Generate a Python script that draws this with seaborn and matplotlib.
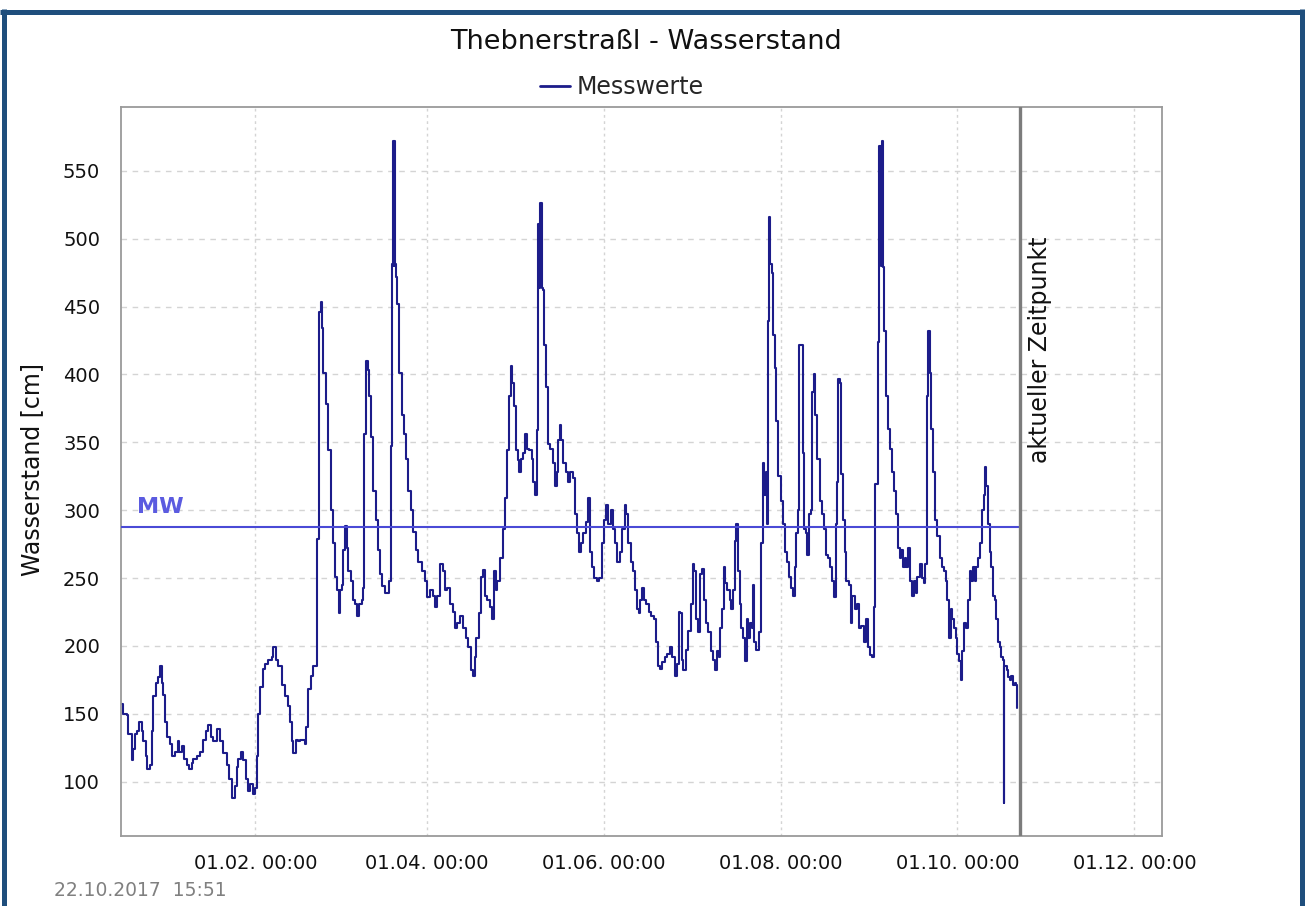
import numpy as np
import pandas as pd
import matplotlib
matplotlib.use("Agg")
import matplotlib.pyplot as plt
import matplotlib.dates as mdates
import matplotlib.transforms as mtransforms
from matplotlib.lines import Line2D
import seaborn as sns

# ---------------- data ----------------
title = "Thebnerstraßl - Wasserstand"
series_name = "Messwerte"
y_label = "Wasserstand [cm]"
mean_label = "MW"
mean_value = 287.5
now_label = "aktueller Zeitpunkt"
now_time = "2017-10-22 15:51"
stamp_text = "22.10.2017  15:51"
start_date = "2017-01-01"
x_start = "2016-12-16 15:51"
x_end = "2017-12-10 12:00"
y_min, y_max = 60, 597
y_ticks = [100, 150, 200, 250, 300, 350, 400, 450, 500, 550]
x_tick_dates = ["2017-02-01", "2017-04-01", "2017-06-01",
                "2017-08-01", "2017-10-01", "2017-12-01"]
x_tick_labels = ["01.02. 00:00", "01.04. 00:00", "01.06. 00:00",
                 "01.08. 00:00", "01.10. 00:00", "01.12. 00:00"]

# days after 1 Jan 2017
day_offset = [
    -15.1, -14.5, -13.4, -12.8, -11.7, -11.1, -10.5, -9.7, -9.0, -8.2, -7.6, -6.7, -6.3, -5.3,
    -4.8, -4.2, -3.3, -2.5, -1.9, -1.3, -0.7, -0.2, 0.6, 1.6, 2.1, 3.3, 4.2, 4.8, 5.6, 6.4,
    7.3, 8.1, 9.0, 9.6, 10.7, 11.9, 13.0, 14.0, 14.8, 15.6, 16.5, 17.6, 18.8, 19.9, 21.1,
    22.0, 22.8, 23.9, 24.5, 25.1, 25.9, 26.8, 27.6, 28.3, 29.1, 30.0, 30.8, 31.4, 32.0,
    32.6, 33.5, 34.3, 35.4, 36.6, 37.2, 38.0, 38.9, 40.0, 41.2, 42.1, 42.9, 43.5, 44.1,
    45.0, 45.8,
    46.4, 48.1, 48.6, 49.2, 50.0, 50.9, 52.1, 52.3, 52.8, 53.0, 53.6, 53.9, 54.4, 55.3,
    56.1, 56.9, 57.6, 58.4, 59.2, 59.8, 60.1, 60.9, 61.3, 61.9, 62.4, 63.0, 63.8, 64.5,
    65.3, 66.1, 66.8, 67.6, 68.2, 68.5, 69.0, 69.7, 70.2, 71.0, 71.6, 72.4, 73.3, 73.9,
    74.8, 75.6, 76.4, 77.1, 77.6, 78.2, 78.5, 78.7, 78.9, 79.1, 79.3, 79.9, 80.6, 81.4,
    82.2, 82.9, 83.7, 84.5, 85.4, 86.3, 87.1, 88.3, 89.4, 90.2, 91.1, 92.1, 92.9, 93.7,
    94.6, 95.5, 96.3, 97.1, 98.0, 99.0, 99.8, 100.6, 101.5, 102.6, 103.6, 104.4, 105.2,
    105.9, 106.7, 107.2, 108.0, 108.7, 109.5, 110.1, 110.9,
    111.8, 112.7, 113.2, 113.9, 114.3, 115.3, 116.2, 117.0, 117.6, 118.4, 119.1, 119.6,
    120.2, 120.8, 121.4, 121.9, 122.5, 123.3, 123.9, 124.5, 125.4, 126.2, 126.8, 127.3,
    127.9, 128.5, 128.9, 129.1, 129.3, 129.5, 129.8, 130.0, 130.5, 131.1, 131.7, 132.5,
    133.6, 134.2, 134.8, 135.4, 135.9, 136.5, 137.1, 138.0, 138.8, 139.4, 140.3, 141.1,
    141.9, 142.5, 143.2, 144.0, 144.9, 145.7, 146.3, 146.9, 147.7, 148.6, 149.5, 150.3,
    151.1, 151.8, 152.6, 153.4, 154.3, 155.1, 155.8, 156.6, 157.5, 158.3, 158.9, 159.5,
    160.3, 161.2, 161.8, 162.4, 163.2, 163.7, 164.4, 165.0, 165.8, 166.7, 167.5, 168.3,
    169.0, 169.8, 170.6, 171.3, 172.1, 173.0, 173.9, 174.7, 175.6, 176.4, 177.1,
    177.3, 177.9, 178.4, 179.4, 180.2, 181.0, 181.7, 182.2, 182.8, 183.6, 184.4, 185.0,
    185.6, 186.3, 187.1, 187.9, 188.8, 189.4, 190.2, 190.8, 191.3, 192.0, 192.5, 193.0,
    193.7, 194.5, 195.1, 195.7, 196.2, 196.8, 197.4, 198.0, 198.5, 199.1, 199.7, 200.3,
    200.8, 201.4, 202.0, 202.6, 203.0, 203.7, 204.5, 205.2, 205.8, 206.4, 206.9, 207.4,
    207.7, 208.1, 208.3, 208.9, 209.5, 210.0, 210.6, 211.2, 212.0, 212.7, 213.5, 214.1,
    214.9, 215.5, 216.3, 216.9, 217.5, 218.1, 218.4, 219.2, 219.8, 220.1, 220.7, 221.3,
    221.9, 222.4, 223.0, 223.6, 224.0, 224.7, 225.5, 226.4, 227.0, 227.6, 228.4, 229.2,
    229.9, 230.5, 231.0, 231.5, 231.9, 232.4, 233.0, 233.6, 234.1, 234.7, 235.5, 236.2,
    236.8, 237.6, 238.4, 239.1, 239.9, 240.7, 241.4, 242.2,
    242.8, 243.7, 244.1, 244.6, 245.3, 245.6, 246.0, 246.5, 247.1, 247.4, 247.6, 248.2,
    248.5, 249.2, 249.9, 250.6, 251.1, 251.7, 252.5, 253.1, 253.7, 254.2, 254.8, 255.4,
    256.0, 256.5, 257.3, 258.0, 258.6, 259.2, 260.0, 260.6, 261.4, 261.9, 262.5, 263.0,
    263.4, 263.9, 264.6, 265.3, 266.1, 266.9, 267.5, 268.3, 269.0, 269.5, 270.0, 270.6,
    271.2, 271.8, 272.4, 273.0, 273.5, 274.1, 274.7, 275.3, 276.1, 276.6, 277.2, 277.8,
    278.4, 278.9, 279.5, 280.1, 280.9, 281.6, 282.2, 282.5, 283.0, 283.4, 284.1, 284.7,
    285.3, 285.8, 286.4, 287.0, 287.6, 288.1, 288.7, 288.9, 289.2, 289.9, 290.4, 291.0,
    291.6, 292.2, 292.7, 293.3, 293.6,
]

level_cm = [
    157, 150, 149, 135, 116, 124, 135, 137, 144, 137, 130, 119, 109, 112,
    137, 163, 173, 177, 185, 173, 164, 144, 133, 128, 119, 122, 130, 122, 126, 117,
    112, 109, 114, 117, 119, 122, 131, 137, 142, 133, 130, 139, 130, 121, 112,
    102, 88, 97, 111, 117, 122, 116, 102, 93, 98, 91, 95, 119, 150,
    170, 183, 187, 190, 192, 199, 190, 185, 171, 163, 156, 144, 130, 121,
    131, 130,
    131, 128, 140, 168, 178, 185, 189, 279, 279, 446, 453, 434, 401, 378,
    344, 300, 276, 251, 241, 224, 241, 245, 271, 288, 272, 255, 248, 234,
    231, 222, 231, 234, 243, 356, 410, 403, 384, 354, 314, 293, 271, 253,
    244, 239, 239, 248, 347, 481, 572, 480, 572, 481, 472, 452, 401, 370,
    356, 338, 314, 300, 284, 271, 262, 255, 248, 236, 241, 237, 229, 237,
    260, 255, 241, 243, 231, 225, 213, 217, 222, 213, 206, 199, 182,
    178, 192, 206, 224, 251, 256, 237, 234,
    229, 220, 255, 241, 248, 265, 286, 309, 344, 384, 406, 394,
    377, 344, 337, 328, 338, 342, 356, 345, 344, 338, 321, 311,
    359, 511, 464, 526, 500, 526, 464, 462, 422, 391, 349, 345,
    335, 318, 328, 352, 363, 352, 335, 328, 321, 328, 324, 297,
    283, 269, 276, 283, 291, 309, 269, 258, 250, 248, 250, 276,
    293, 304, 290, 300, 286, 276, 262, 269, 286, 304, 297, 276,
    262, 255, 241, 227, 224, 234, 243, 234, 231, 225, 222, 220,
    203, 185, 183, 188, 192, 194, 199, 192, 178, 187, 225,
    224, 190, 182, 197, 211, 231, 260, 255, 220, 210, 253, 257,
    234, 217, 210, 196, 190, 182, 196, 192, 213, 227, 258, 246,
    241, 234, 227, 241, 277, 290, 255, 231, 213, 206, 189, 220,
    206, 217, 213, 245, 203, 197, 210, 276, 335, 311, 328, 290,
    439, 516, 481, 475, 429, 405, 366, 325, 307, 290, 269, 262,
    251, 243, 237, 258, 283, 300, 422, 422, 342, 286, 283, 267,
    297, 300, 387, 400, 370, 338, 307, 297, 286, 267, 265, 258,
    248, 236, 290, 321, 397, 394, 327, 293, 269, 248, 245, 217,
    237, 227, 231, 213, 215, 203, 220, 199,
    193, 192, 229, 319, 319, 424, 568, 480, 572, 479, 432, 429,
    384, 360, 345, 328, 314, 297, 272, 265, 271, 258, 265, 258,
    272, 248, 237, 248, 239, 251, 260, 250, 246, 260, 384, 432,
    401, 360, 328, 293, 281, 265, 258, 255, 248, 234, 206, 227,
    220, 213, 206, 194, 189, 175, 196, 217, 213, 234, 255, 248,
    258, 248, 258, 265, 276, 300, 311, 332, 318, 290, 269, 258,
    237, 234, 220, 203, 199, 192, 190, 84, 185, 182, 177, 175,
    178, 171, 173, 171, 154,
]

# ---------------- figure ----------------
W, H = 1306, 906
times = pd.Timestamp(start_date) + pd.to_timedelta(day_offset, unit="D")
df = pd.DataFrame({"Zeit": times, "Wasserstand": level_cm})

sns.set_theme(style="white")
plt.rcParams["font.family"] = ["DejaVu Sans"]

fig = plt.figure(figsize=(W / 100, H / 100), dpi=100)
fig.patch.set_facecolor("white")

ax_l, ax_r, ax_t, ax_b = 121, 1162, 107, 836
ax = fig.add_axes([ax_l / W, 1 - ax_b / H, (ax_r - ax_l) / W, (ax_b - ax_t) / H])
ax.set_facecolor("white")

navy = "#1c1c8a"
sns.lineplot(data=df, x="Zeit", y="Wasserstand", ax=ax, color=navy, lw=1.5,
             drawstyle="steps-post", estimator=None, label=series_name, legend=False)

x0 = pd.Timestamp(x_start)
now = pd.Timestamp(now_time)
ax.set_xlim(x0, pd.Timestamp(x_end))
ax.set_ylim(y_min, y_max)
ax.set_yticks(y_ticks)
ax.set_xticks([pd.Timestamp(d) for d in x_tick_dates])
ax.set_xticklabels(x_tick_labels)
ax.set_xlabel("")
ax.set_ylabel("")

# grid
ax.yaxis.grid(True, color="#d4d4d4", linestyle=(0, (4, 4)), lw=1.0)
ax.xaxis.grid(True, color="#d4d4d4", linestyle=(0, (2, 2.5)), lw=1.0)
ax.set_axisbelow(True)

for s in ax.spines.values():
    s.set_color("#9a9a9a")
    s.set_linewidth(1.3)

ax.tick_params(axis="both", direction="out", length=4.5, width=1, color="#8a8a8a",
               labelsize=14, labelcolor="#111111")
ax.tick_params(axis="y", pad=10.5)
ax.tick_params(axis="x", pad=8.5)

# mean water level line
ax.hlines(mean_value, x0, now, color="#4a4ad6", lw=1.5, zorder=3)
ax.annotate(mean_label, xy=(mdates.date2num(x0), mean_value), xytext=(11.5, 10),
            textcoords="offset points", ha="left", va="baseline", fontsize=16,
            fontweight="bold", color="#5b5be0")

# current time marker
ax.axvline(now, color="#7c7c7c", lw=2.4, zorder=4)
trans = mtransforms.blended_transform_factory(ax.transData, ax.transAxes)
ax.annotate(now_label, xy=(mdates.date2num(now), (ax_b - 350) / (ax_b - ax_t)),
            xycoords=trans, xytext=(14.5, 0), textcoords="offset points", rotation=90,
            ha="center", va="center", fontsize=17, color="#111111")

# legend
handles, labels = ax.get_legend_handles_labels()
leg = ax.legend(handles, labels, loc="center",
                bbox_to_anchor=(622 / W, 1 - 87 / H), bbox_transform=fig.transFigure,
                frameon=False, fontsize=17, handlelength=1.25, handletextpad=0.3,
                borderpad=0, borderaxespad=0)
for h in leg.get_lines():
    h.set_linewidth(2)

# texts
fig.text(646 / W, 1 - 42 / H, title, ha="center", va="center", fontsize=19.5, color="#111111")
fig.text(32 / W, 1 - 469 / H, y_label, ha="center", va="center", rotation=90,
         fontsize=17, color="#111111")
fig.text(54 / W, 1 - 890 / H, stamp_text, ha="left", va="center", fontsize=13.5,
         color="#808080")

# frame border
border = "#1f4e7c"
fig.add_artist(Line2D([3.5 / W, 3.5 / W], [0, 1 - 9 / H], transform=fig.transFigure,
                      color=border, lw=3.6, solid_capstyle="butt"))
fig.add_artist(Line2D([0, 1304 / W], [1 - 11.5 / H, 1 - 11.5 / H], transform=fig.transFigure,
                      color=border, lw=3.6, solid_capstyle="butt"))
fig.add_artist(Line2D([1301.5 / W, 1301.5 / W], [0, 1 - 9 / H], transform=fig.transFigure,
                      color=border, lw=3.6, solid_capstyle="butt"))

fig.savefig("out.png", dpi=100, facecolor="white")
